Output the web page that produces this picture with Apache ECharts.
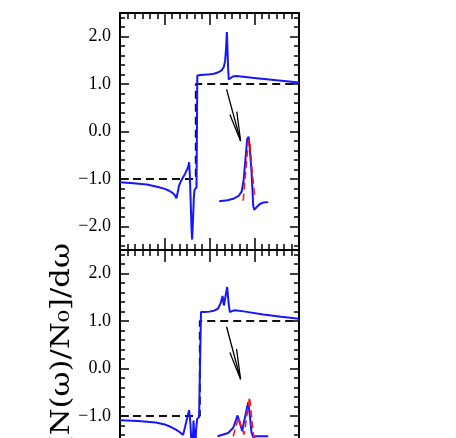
<!DOCTYPE html>
<html><head><meta charset="utf-8">
<script src="https://cdn.jsdelivr.net/npm/echarts@6/dist/echarts.min.js"></script>
<style>html,body{margin:0;padding:0;background:#fff}#c{width:456px;height:438px}</style>
</head><body><div id="c"></div>
<script>
// ---- tick values ----
const yMajorTicks = [-2, -1, 0, 1, 2];
const yMinorTicks = [-2.4,-2.2,-1.8,-1.6,-1.4,-1.2,-0.8,-0.6,-0.4,-0.2,0.2,0.4,0.6,0.8,1.2,1.4,1.6,1.8,2.2,2.4];
const yAxisTitle = 'd[N(ω)/N₀]/dω';

// ---- top panel ----
const topStep = [[0,-1],[1.694,-1],[1.694,1],[4,1]];
const topBlue = [[0,-1.07],[0.3,-1.09],[0.6,-1.12],[0.85,-1.17],[1.0,-1.21],[1.1,-1.25],[1.18,-1.30],[1.23,-1.35],[1.262,-1.41],
  [1.29,-1.28],[1.32,-1.14],[1.36,-1.05],[1.40,-0.98],[1.45,-0.90],[1.50,-0.80],[1.53,-0.72],[1.545,-0.65],
  [1.56,-0.9],[1.58,-1.5],[1.60,-2.1],[1.612,-2.28],[1.63,-1.9],[1.65,-1.4],[1.665,-1.23],[1.71,-1.18],[1.722,-1.18],
  [1.728,1.18],[1.8,1.19],[1.95,1.20],[2.1,1.22],[2.2,1.25],[2.27,1.29],[2.32,1.36],[2.35,1.50],[2.37,1.75],[2.388,2.10],
  [2.40,1.8],[2.415,1.35],[2.43,1.1],[2.44,1.06],[2.47,1.12],[2.52,1.16],[2.6,1.17],[3.0,1.13],[3.5,1.08],[4.0,1.035]];
const topInsetBlue = [[2.216,-1.47],[2.40,-1.45],[2.53,-1.42],[2.65,-1.36],[2.717,-1.27],[2.76,-1.05],[2.791,-0.72],[2.82,-0.4],
  [2.843,-0.16],[2.873,-0.11],[2.90,-0.35],[2.94,-0.86],[2.977,-1.56],[3.0,-1.65],[3.05,-1.6],[3.127,-1.53],[3.2,-1.50],[3.313,-1.49]];
const topInsetRed = [[2.753,-1.46],[2.80,-0.95],[2.845,-0.45],[2.875,-0.17],[2.888,-0.15],[2.905,-0.25],[2.95,-0.8],[3.015,-1.42]];
const topArrowShaft = [[2.381,0.89],[2.695,-0.20]];
const topArrowHead = [[2.455,0.36],[2.695,-0.20],[2.61,0.42]];

// ---- bottom panel ----
const botStep = [[0,-1],[1.784,-1],[1.784,1],[4,1]];
const botBlue = [[0,-1.09],[0.4,-1.11],[0.8,-1.14],[1.0,-1.18],[1.15,-1.24],[1.25,-1.29],[1.33,-1.34],[1.41,-1.40],
  [1.45,-1.25],[1.486,-1.10],[1.52,-0.97],[1.545,-0.88],[1.575,-1.18],[1.598,-1.6],[1.612,-1.9],[1.628,-1.5],[1.643,-1.10],
  [1.66,-1.4],[1.68,-1.75],[1.70,-1.3],[1.724,-1.07],[1.768,-1.02],[1.80,-1.0],
  [1.81,1.19],[1.9,1.19],[2.0,1.20],[2.1,1.22],[2.19,1.26],[2.254,1.39],[2.292,1.53],[2.321,1.33],[2.359,1.53],[2.395,1.72],
  [2.426,1.39],[2.455,1.19],[2.5,1.21],[2.567,1.23],[2.8,1.20],[3.2,1.14],[3.6,1.09],[4.0,1.05]];
const botInsetBlue = [[2.18,-1.43],[2.417,-1.36],[2.53,-1.25],[2.583,-1.11],[2.627,-0.99],[2.679,-1.15],[2.73,-1.32],[2.791,-1.04],
  [2.865,-0.71],[2.903,-1.01],[2.94,-1.36],[2.977,-1.45],[3.04,-1.43],[3.313,-1.43]];
const botInsetRed = [[2.53,-1.43],[2.604,-1.18],[2.657,-1.04],[2.717,-1.25],[2.776,-1.39],[2.829,-1.04],[2.896,-0.60],
  [2.94,-1.01],[2.977,-1.36],[3.0,-1.45]];
const botArrowShaft = [[2.381,0.88],[2.695,-0.226]];
const botArrowHead = [[2.455,0.34],[2.695,-0.226],[2.605,0.41]];

const panels = [
  {step: topStep, blue: topBlue, insetBlue: topInsetBlue, insetRed: topInsetRed, shaft: topArrowShaft, head: topArrowHead},
  {step: botStep, blue: botBlue, insetBlue: botInsetBlue, insetRed: botInsetRed, shaft: botArrowShaft, head: botArrowHead}
];

const BLUE = '#1515ff', RED = '#ff1a1a';
const grids = [
  {left:120, top:13, width:179, height:237, outerBoundsMode:'none', containLabel:false},
  {left:120, top:250, width:179, height:237, outerBoundsMode:'none', containLabel:false}
];
const xAxes = [], yAxes = [], series = [];
const lineCol = {color:'#000', width:2};
const tickCol = {color:'#000', width:1.5};
const fmt = v => (v < 0 ? '\u2212' : '') + Math.abs(v).toFixed(1);

panels.forEach((p, g) => {
  ['bottom','top'].forEach(pos => xAxes.push({
    gridIndex:g, type:'value', min:0, max:4, interval:1, position:pos,
    axisLine:{show:true, onZero:false, lineStyle:lineCol},
    axisTick:{show:true, inside:true, length:12, lineStyle:tickCol},
    minorTick:{show:true, splitNumber:6, length:6, lineStyle:tickCol},
    axisLabel:{show:false}, splitLine:{show:false}, minorSplitLine:{show:false}
  }));
  ['left','right'].forEach(pos => {
    yAxes.push({
      gridIndex:g, type:'value', min:-2.5, max:2.5, position:pos,
      axisLine:{show:true, onZero:false, lineStyle:lineCol},
      axisTick:{show:true, inside:true, length:9, lineStyle:tickCol, customValues: yMajorTicks},
      axisLabel:{show: pos === 'left', customValues: yMajorTicks, formatter: fmt, margin: 9,
        fontFamily:'Liberation Serif', fontSize:18, color:'#000'},
      splitLine:{show:false}
    });
    yAxes.push({
      gridIndex:g, type:'value', min:-2.5, max:2.5, position:pos,
      axisLine:{show:false, onZero:false},
      axisTick:{show:true, inside:true, length:5, lineStyle:tickCol, customValues: yMinorTicks},
      axisLabel:{show:false}, splitLine:{show:false}
    });
  });
  const xi = g*2, yi = g*4;
  const mk = (data, color, width, type, z) => ({
    type:'line', xAxisIndex:xi, yAxisIndex:yi, data, symbol:'none', showSymbol:false,
    animation:false, z, lineStyle:{color, width, type}, clip:true
  });
  series.push(mk(p.step, '#111', 2, [8,5], 2));
  series.push(mk(p.blue, BLUE, 2, 'solid', 3));
  series.push(mk(p.insetBlue, BLUE, 2, 'solid', 3));
  series.push(mk(p.insetRed, RED, 1.6, [7,4], 4));
  series.push(mk(p.shaft, '#000', 1.3, 'solid', 5));
  series.push(mk(p.head, '#000', 1.3, 'solid', 5));
});

const chart = echarts.init(document.getElementById('c'), null, {renderer:'canvas'});
chart.setOption({
  animation:false,
  backgroundColor:'#fff',
  grid: grids,
  xAxis: xAxes,
  yAxis: yAxes,
  series,
  graphic: [{
    type:'text', x:62, y:243, rotation: Math.PI/2, scaleX: 1.18, scaleY: 1,
    style:{text: yAxisTitle, fontFamily:'DejaVu Serif', fontSize:26, fill:'#000',
      align:'right', verticalAlign:'middle'}
  }]
});
</script></body></html>
